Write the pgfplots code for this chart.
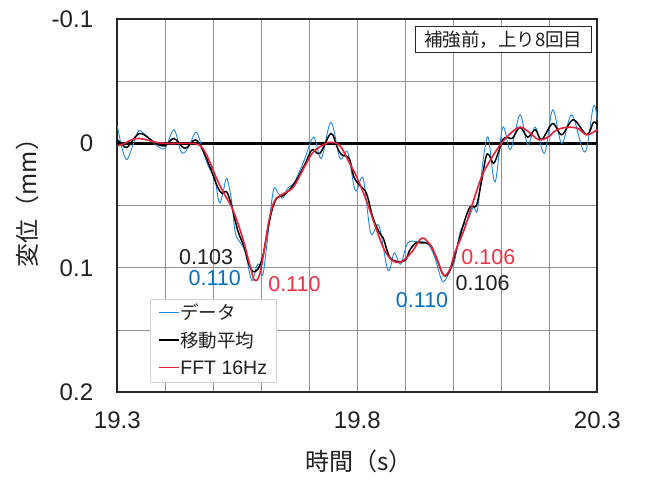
\documentclass[border=0pt]{standalone}
\usepackage{fontspec}
\setmainfont{Liberation Sans}
\newfontfamily\jp{Noto Sans CJK JP}
\usepackage{pgfplots}
\pgfplotsset{compat=1.18}
\definecolor{dblue}{RGB}{30,136,214}
\definecolor{tblue}{RGB}{0,112,192}
\definecolor{dred}{RGB}{232,33,58}
\definecolor{tred}{RGB}{236,50,70}
\definecolor{tblk}{RGB}{35,31,32}
\definecolor{gridc}{RGB}{145,145,145}
\newcommand{\legline}[1]{\textcolor{#1}{\rule[6.5bp]{20bp}{1.3bp}}\hspace{1bp}}
\begin{document}
\begin{tikzpicture}
\begin{axis}[
  scale only axis, width=480bp, height=373.3bp,
  xmin=19.3, xmax=20.3, ymin=-0.1, ymax=0.2, y dir=reverse,
  xtick={19.3,19.4,19.5,19.6,19.7,19.8,19.9,20.0,20.1,20.2,20.3},
  xticklabels={19.3,,,,,19.8,,,,,20.3},
  ytick={-0.1,-0.05,0,0.05,0.1,0.15,0.2},
  yticklabels={-0.1,,0,,0.1,,0.2},
  /pgf/number format/assume math mode=true,
  grid=major, major grid style={gridc, line width=0.8bp},
  major tick length=0pt,
  axis line style={line width=1.8bp, black!85},
  tick label style={font=\fontsize{24bp}{28bp}\selectfont, text=tblk},
  xticklabel style={anchor=north, inner sep=0pt, yshift=-19bp},
  yticklabel style={anchor=east, inner sep=0pt, xshift=-24bp},
  xlabel={\jp 時間（s）},
  ylabel={\jp 変位（mm）},
  label style={font=\fontsize{24bp}{28bp}\selectfont, text=tblk},
  xlabel style={at={(axis description cs:0.5035,-0.1854)}, anchor=center},
  ylabel style={at={(axis description cs:-0.188,0.523)}, anchor=center},
  clip=false,
  legend style={at={(axis cs:19.368,0.1247)}, anchor=north west,
    draw=gray!35, line width=0.9bp, fill=white,
    font=\jp\fontsize{18.5bp}{22bp}\selectfont, text=tblk,
    inner xsep=8bp, inner ysep=0bp,
    nodes={inner xsep=1bp, inner ysep=1bp, text depth=6.5bp, text height=19.3bp},
    /tikz/every odd column/.append style={column sep=0bp},
    legend cell align=left},
  legend image code/.code={},
]
% zero line
\addplot[black, line width=2.8bp, forget plot] coordinates {(19.3,0) (20.3,0)};
% data (blue)
\addplot[dblue, line width=0.9bp, smooth, tension=0.55] coordinates {
(19.300,-0.014) (19.310,0.004) (19.320,0.013) (19.332,0.002) (19.344,-0.010)
(19.355,-0.008) (19.367,-0.004) (19.380,0.001) (19.399,0.004) (19.418,-0.011)
(19.432,0.006) (19.441,0.007) (19.452,0.000) (19.465,-0.009) (19.480,0.008)
(19.493,0.021) (19.500,0.020) (19.512,0.047) (19.520,0.040) (19.528,0.028)
(19.538,0.046) (19.546,0.072) (19.557,0.080) (19.567,0.088) (19.580,0.110)
(19.590,0.099) (19.596,0.097) (19.603,0.106) (19.612,0.080) (19.625,0.038)
(19.635,0.040) (19.645,0.044) (19.655,0.036) (19.668,0.032) (19.680,0.022)
(19.690,0.013) (19.709,-0.005) (19.725,0.012) (19.745,-0.017) (19.764,0.012)
(19.780,0.007) (19.796,0.038) (19.812,0.028) (19.828,0.072) (19.845,0.066)
(19.864,0.102) (19.877,0.088) (19.890,0.097) (19.905,0.080) (19.925,0.079)
(19.945,0.080) (19.960,0.090) (19.975,0.109) (19.983,0.110) (19.995,0.100)
(20.003,0.094) (20.015,0.070) (20.030,0.062) (20.042,0.051) (20.050,0.054)
(20.060,0.020) (20.068,-0.001) (20.074,-0.003) (20.087,0.031) (20.103,-0.013)
(20.119,0.005) (20.139,-0.023) (20.155,0.001) (20.171,-0.013) (20.190,0.008)
(20.207,-0.027) (20.226,0.000) (20.247,-0.023) (20.274,0.007) (20.292,-0.030)
(20.300,-0.019)};
\addlegendentry{\legline{dblue}データ}
% moving average (black)
\addplot[black, line width=1.5bp, smooth, tension=0.55] coordinates {
(19.300,-0.003) (19.311,0.001) (19.321,0.003) (19.347,-0.008) (19.380,0.000)
(19.399,0.002) (19.418,-0.004) (19.441,0.004) (19.463,-0.003) (19.480,0.007)
(19.493,0.019) (19.509,0.035) (19.518,0.040) (19.528,0.039) (19.538,0.050)
(19.551,0.070) (19.564,0.083) (19.574,0.097) (19.583,0.103) (19.593,0.101)
(19.603,0.091) (19.612,0.072) (19.622,0.054) (19.632,0.044) (19.645,0.042)
(19.657,0.038) (19.674,0.029) (19.693,0.015) (19.706,0.005) (19.722,0.008)
(19.745,-0.008) (19.758,0.003) (19.767,0.009) (19.783,0.012) (19.793,0.027)
(19.806,0.034) (19.819,0.040) (19.832,0.059) (19.845,0.071) (19.854,0.076)
(19.867,0.091) (19.883,0.095) (19.900,0.094) (19.909,0.086) (19.922,0.080)
(19.935,0.080) (19.951,0.081) (19.964,0.091) (19.980,0.106) (19.993,0.102)
(20.006,0.086) (20.022,0.064) (20.035,0.051) (20.048,0.050) (20.058,0.032)
(20.068,0.011) (20.074,0.009) (20.084,0.016) (20.094,0.007) (20.103,-0.003)
(20.113,-0.005) (20.123,-0.004) (20.139,-0.013) (20.155,-0.005) (20.171,-0.011)
(20.184,-0.003) (20.207,-0.016) (20.226,-0.007) (20.250,-0.019) (20.278,-0.007)
(20.292,-0.017) (20.300,-0.015)};
\addlegendentry{\legline{black}移動平均}
% FFT 16Hz (red)
\addplot[dred, line width=1.6bp, smooth, tension=0.6] coordinates {
(19.300,0.002) (19.315,0.000) (19.330,-0.003) (19.344,-0.004) (19.360,-0.003)
(19.380,-0.001) (19.400,0.000) (19.425,0.000) (19.450,0.000) (19.470,0.001)
(19.483,0.007) (19.496,0.018) (19.509,0.030) (19.522,0.040) (19.538,0.051)
(19.551,0.064) (19.564,0.080) (19.577,0.099) (19.586,0.110) (19.596,0.106)
(19.606,0.086) (19.616,0.062) (19.628,0.046) (19.648,0.040) (19.667,0.035)
(19.687,0.021) (19.706,0.008) (19.725,0.002) (19.745,-0.001) (19.764,0.002)
(19.780,0.013) (19.800,0.028) (19.819,0.046) (19.838,0.067) (19.857,0.086)
(19.877,0.095) (19.896,0.094) (19.916,0.086) (19.935,0.076) (19.954,0.083)
(19.967,0.094) (19.980,0.106) (19.993,0.101) (20.003,0.088) (20.022,0.070)
(20.042,0.046) (20.061,0.025) (20.081,0.011) (20.100,0.000) (20.119,-0.008)
(20.139,-0.013) (20.158,-0.009) (20.178,-0.003) (20.197,-0.005) (20.216,-0.011)
(20.240,-0.013) (20.260,-0.012) (20.278,-0.007) (20.300,-0.011)};
\addlegendentry{\legline{dred}{\rmfamily\fontsize{19.5bp}{22bp}\selectfont FFT 16Hz}}
% annotations
\node[font=\fontsize{21.5bp}{25bp}\selectfont, text=tblk] at (axis cs:19.485,0.091) {0.103};
\node[font=\fontsize{21.5bp}{25bp}\selectfont, text=tblue] at (axis cs:19.503,0.108) {0.110};
\node[font=\fontsize{21.5bp}{25bp}\selectfont, text=tred] at (axis cs:19.669,0.113) {0.110};
\node[font=\fontsize{21.5bp}{25bp}\selectfont, text=tred] at (axis cs:20.073,0.091) {0.106};
\node[font=\fontsize{21.5bp}{25bp}\selectfont, text=tblk] at (axis cs:20.061,0.112) {0.106};
\node[font=\fontsize{21.5bp}{25bp}\selectfont, text=tblue] at (axis cs:19.935,0.126) {0.110};
% title box
\node[draw=black!85, line width=1.1bp, fill=white, inner xsep=9bp, inner ysep=4bp,
      font=\jp\fontsize{18.5bp}{22bp}\selectfont, text=tblk, anchor=north east]
      at (axis cs:20.289,-0.0941) {補強前，上り8回目};
\end{axis}
\pgfresetboundingbox
\path[use as bounding box] (-117.3bp,-89.7bp) rectangle (543.7bp,392.3bp);
\end{tikzpicture}
\end{document}
